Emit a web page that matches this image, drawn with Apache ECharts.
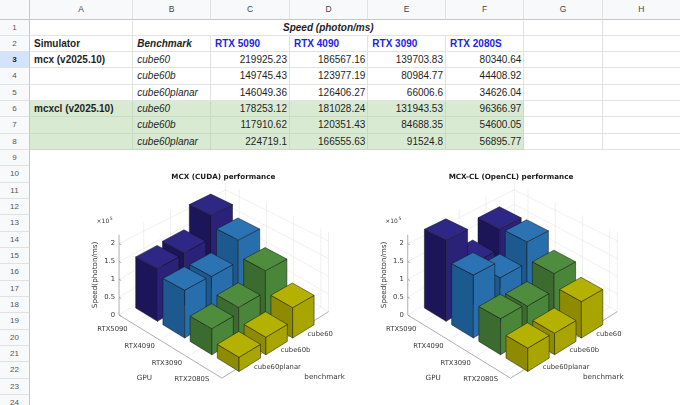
<!DOCTYPE html>
<html><head><meta charset="utf-8">
<script src="https://cdn.jsdelivr.net/npm/echarts@6/dist/echarts.min.js"></script>
<style>
html,body{margin:0;padding:0;width:680px;height:405px;overflow:hidden;background:#fff;font-family:"Liberation Sans",Arial,sans-serif;}
#sheet{position:absolute;left:0;top:0;width:680px;height:405px;}
.c{position:absolute;box-sizing:border-box;font-size:10px;white-space:nowrap;overflow:visible;color:#1f1f1f;}
#chart{position:absolute;left:31px;top:150px;width:649px;height:255px;background:#fff;}
</style></head><body>
<div id="sheet"></div><div id="chart"></div>
<script>
// ---------------- data ----------------
const simulators = ['mcx (v2025.10)', 'mcxcl (v2025.10)'];
const benchmarks = ['cube60', 'cube60b', 'cube60planar'];
const gpus = ['RTX 5090', 'RTX 4090', 'RTX 3090', 'RTX 2080S'];
const mcxSpeed = [
  [219925.23, 186567.16, 139703.83, 80340.64],
  [149745.43, 123977.19, 80984.77, 44408.92],
  [146049.36, 126406.27, 66006.6, 34626.04]
];
const mcxclSpeed = [
  [178253.12, 181028.24, 131943.53, 96366.97],
  [117910.62, 120351.43, 84688.35, 54600.05],
  [224719.1, 166555.63, 91524.8, 56895.77]
];
const columnLetters = ['A','B','C','D','E','F','G','H'];
const headerTitle = 'Speed (photon/ms)';
const chartTitles = ['MCX (CUDA) performance', 'MCX-CL (OpenCL) performance'];
const gpuTicks = ['RTX5090', 'RTX4090', 'RTX3090', 'RTX2080S'];
const benchTicks = ['cube60', 'cube60b', 'cube60planar'];
const zTicks = [0, 50000, 100000, 150000, 200000];
const zTickLabels = ['0', '0.5', '1', '1.5', '2'];
const zExponent = '5';
const axisNames = {gpu: 'GPU', bench: 'benchmark', z: 'Speed(photon/ms)'};

// ---------------- spreadsheet ----------------
const colEdges = [0, 30, 133.3, 211, 290, 368.3, 446, 524.3, 602.7, 681];
const HDR = 19.5, RH = 16.33, NROWS = 24;
const rowTop = n => HDR + (n - 1) * RH;
const sheet = document.getElementById('sheet');
function box(x, y, w, h, css, text) {
  const d = document.createElement('div');
  d.className = 'c';
  d.style.cssText = `left:${x}px;top:${y}px;width:${w}px;height:${h}px;line-height:${h}px;` + css;
  if (text != null) d.textContent = text;
  sheet.appendChild(d);
  return d;
}
const HBG = 'background:#f8f9fa;';
box(0, 0, 30, HDR, HBG + 'border-right:1px solid #c4c7c5;border-bottom:1px solid #c4c7c5;');
columnLetters.forEach((L, i) => {
  box(colEdges[i+1], 0, colEdges[i+2] - colEdges[i+1], HDR,
    HBG + 'border-right:1px solid #e1e1e1;border-bottom:1px solid #c4c7c5;text-align:center;font-size:8.5px;color:#444;', L);
});
for (let n = 1; n <= NROWS; n++) {
  const sel = n === 3;
  box(0, rowTop(n), 30, RH,
    (sel ? 'background:#d3e3fd;font-weight:bold;color:#0b1f44;' : HBG + 'color:#555;') +
    'border-right:1px solid #c4c7c5;border-bottom:1px solid #e1e1e1;text-align:center;font-size:8px;', String(n));
}
const greenRows = [6, 7, 8];
for (let n = 1; n <= 8; n++) {
  for (let c = 0; c < 8; c++) {
    if (n === 1 && c >= 1 && c <= 5) continue;
    const green = greenRows.includes(n) && c <= 5;
    box(colEdges[c+1], rowTop(n), colEdges[c+2] - colEdges[c+1], RH,
      (green ? 'background:#d9ead3;border-right:1px solid rgba(0,0,0,0.07);border-bottom:1px solid rgba(0,0,0,0.07);'
             : 'background:#fff;border-right:1px solid #e2e2e2;border-bottom:1px solid #e2e2e2;'));
  }
}
// merged B1:F1
box(colEdges[2], rowTop(1), colEdges[7] - colEdges[2], RH,
  'border-right:1px solid #e2e2e2;border-bottom:1px solid #e2e2e2;text-align:center;font-weight:bold;font-style:italic;', headerTitle);
function textCell(n, c, text, css, right) {
  box(colEdges[c+1], rowTop(n), colEdges[c+2] - colEdges[c+1], RH,
    (right ? 'text-align:right;padding-right:3px;' : 'text-align:left;padding-left:4px;') + css, text);
}
textCell(2, 0, 'Simulator', 'font-weight:bold;');
textCell(2, 1, 'Benchmark', 'font-weight:bold;font-style:italic;');
gpus.forEach((g, i) => textCell(2, 2 + i, g, 'font-weight:bold;color:#2323e6;'));
[mcxSpeed, mcxclSpeed].forEach((tbl, s) => {
  const r0 = 3 + s * 3;
  textCell(r0, 0, simulators[s], 'font-weight:bold;');
  benchmarks.forEach((b, j) => {
    textCell(r0 + j, 1, b, 'font-style:italic;');
    tbl[j].forEach((v, i) => textCell(r0 + j, 2 + i, String(v), '', true));
  });
});

// ---------------- 3D bar charts ----------------
const GEO = {Ux: 27.2, Uy: 16.7, Vx: 26.8, Vy: -16.7, Zs: 35, Oy: 308, Ox: [103.3, 392.0],
  persp: 0.095, // flattening of the floor plane per 1e5 of height (pseudo perspective)
  umin: 0.5, umax: 4.28, vmin: 0.08, vmax: 4.06, ztop: 225000, half: 0.4,
  divL: 31, divT: 150, divW: 649, divH: 255, benchNameDx: [31, 21]};
function toAxis(k, u, v, z) {
  const f = 1 - GEO.persp * z / 1e5;
  return [GEO.Ox[k] + u * GEO.Ux + v * GEO.Vx - GEO.divL,
          z - f * (u * GEO.Uy + v * GEO.Vy) * 1e5 / GEO.Zs];
}
const faceColors = [
  {top: '#2f2786', left: '#1d155a', right: '#2a2179'},
  {top: '#2b73b2', left: '#1c598e', right: '#266eac'},
  {top: '#4f8c3e', left: '#3b6b2e', right: '#4a8639'},
  {top: '#b5b100', left: '#8e8b00', right: '#a9a500'}
];
const FONT = 'DejaVu Sans';
function frameItem(k) {
  return function (params, api) {
    const G = GEO, ch = [];
    const P = (u, v, z) => api.coord(toAxis(k, u, v, z));
    const gl = {stroke: '#e6e6e6', lineWidth: 0.6, fill: null};
    const ax = {stroke: '#8c8c8c', lineWidth: 0.7, fill: null};
    const line = (pts, st) => ch.push({type: 'polyline', shape: {points: pts}, style: st});
    const txt = (p, dx, dy, text, align, size, extra) => ch.push(Object.assign({
      type: 'text', x: p[0] + dx, y: p[1] + dy,
      style: {text: text, fill: '#383838', fontSize: size, fontFamily: FONT, align: align, verticalAlign: 'middle'}
    }, extra || {}));
    gpuTicks.forEach((t, i) => {
      const u = i + 1;
      line([P(u, G.vmin, 0), P(u, G.vmax, 0), P(u, G.vmax, G.ztop)], gl);
    });
    benchTicks.forEach((t, j) => {
      const v = benchTicks.length - j;
      line([P(G.umax, v, 0), P(G.umin, v, 0), P(G.umin, v, G.ztop)], gl);
    });
    zTicks.forEach(z => line([P(G.umin, G.vmin, z), P(G.umin, G.vmax, z), P(G.umax, G.vmax, z)], gl));
    line([P(G.umin, G.vmax, 0), P(G.umin, G.vmax, G.ztop)], gl);
    line([P(G.umax, G.vmax, 0), P(G.umax, G.vmax, G.ztop)], gl);
    // axes
    line([P(G.umin, G.vmin, 0), P(G.umin, G.vmin, G.ztop)], ax);
    line([P(G.umin, G.vmin, 0), P(G.umax, G.vmin, 0), P(G.umax, G.vmax, 0)], ax);
    zTicks.forEach((z, i) => {
      line([P(G.umin, G.vmin, z), P(G.umin + 0.08, G.vmin, z)], ax);
      txt(P(G.umin, G.vmin, z), -4, 0, zTickLabels[i], 'right', 6.8);
    });
    gpuTicks.forEach((t, i) => txt(P(i + 1, G.vmin, 0), -5, 6, t, 'right', 6.8));
    benchTicks.forEach((t, j) => txt(P(G.umax, benchTicks.length - j, 0), 7.5, 4.5, t, 'left', 6.8));
    txt(P(2.5, G.vmin, 0), -29, 29.6, axisNames.gpu, 'center', 7.2);
    txt(P(G.umax, 2, 0), G.benchNameDx[k], 31, axisNames.bench, 'left', 7.2);
    txt(P(G.umin, G.vmin, G.ztop / 2), -24, 0, axisNames.z, 'center', 7.2, {rotation: Math.PI / 2});
    const top = P(G.umin, G.vmin, G.ztop);
    txt(top, -22.5, -13, '\u00d710', 'left', 6);
    txt(top, -9.3, -15.5, zExponent, 'left', 4.6);
    return {type: 'group', children: ch};
  };
}
function barItem(k) {
  return function (params, api) {
    const g = api.value(0), b = api.value(1), z = api.value(2);
    const u = g + 1, v = benchmarks.length - b, h = GEO.half;
    const P = (uu, vv, zz) => api.coord(toAxis(k, uu, vv, zz));
    const L0 = P(u - h, v - h, 0), F0 = P(u + h, v - h, 0), R0 = P(u + h, v + h, 0);
    const Lz = P(u - h, v - h, z), Fz = P(u + h, v - h, z), Rz = P(u + h, v + h, z), Bz = P(u - h, v + h, z);
    const col = faceColors[g];
    const st = c => ({fill: c, stroke: '#141414', lineWidth: 0.5, lineJoin: 'round'});
    return {type: 'group', children: [
      {type: 'polygon', shape: {points: [L0, F0, Fz, Lz]}, style: st(col.left)},
      {type: 'polygon', shape: {points: [F0, R0, Rz, Fz]}, style: st(col.right)},
      {type: 'polygon', shape: {points: [Lz, Fz, Rz, Bz]}, style: st(col.top)}
    ]};
  };
}
function barData(tbl) {
  const d = [];
  tbl.forEach((row, b) => row.forEach((val, g) => d.push([g, b, val])));
  // painter's order: back (small gpu index, large depth) first
  d.sort((p, q) => (p[0] - (benchmarks.length - p[1])) - (q[0] - (benchmarks.length - q[1])));
  return d;
}
const chart = echarts.init(document.getElementById('chart'), null, {renderer: 'canvas'});
const yMin = (GEO.Oy - (GEO.divT + GEO.divH)) * 1e5 / GEO.Zs;
const yMax = (GEO.Oy - GEO.divT) * 1e5 / GEO.Zs;
const titleCenters = [192.3, 480.0];
chart.setOption({
  animation: false,
  backgroundColor: '#ffffff',
  title: chartTitles.map((t, k) => ({
    text: t, left: titleCenters[k], top: 24, textAlign: 'center', padding: 0,
    textStyle: {fontSize: 7.2, fontWeight: 'bold', fontFamily: FONT, color: '#1a1a1a'}
  })),
  grid: {left: 0, right: 0, top: 0, bottom: 0},
  xAxis: {type: 'value', min: 0, max: GEO.divW, show: false},
  yAxis: {type: 'value', min: yMin, max: yMax, show: false},
  series: [
    {type: 'custom', silent: true, data: [[0, 0, 0]], renderItem: frameItem(0)},
    {type: 'custom', silent: true, data: [[0, 0, 0]], renderItem: frameItem(1)},
    {type: 'custom', silent: true, data: barData(mcxSpeed), renderItem: barItem(0)},
    {type: 'custom', silent: true, data: barData(mcxclSpeed), renderItem: barItem(1)}
  ]
});
</script></body></html>
